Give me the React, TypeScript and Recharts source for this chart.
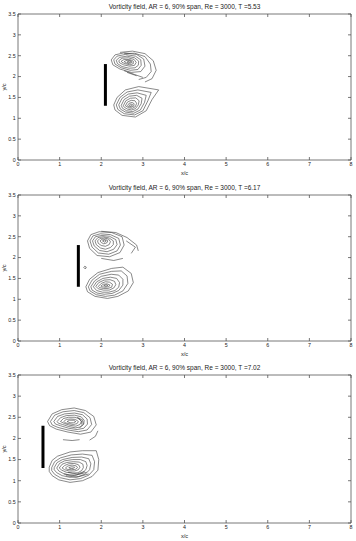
import React from 'react';
import { ScatterChart, Scatter, XAxis, YAxis } from 'recharts';

// ---------- axis ticks ----------
const xTicks = [0, 1, 2, 3, 4, 5, 6, 7, 8];
const yTicks = [0, 0.5, 1, 1.5, 2, 2.5, 3, 3.5];

const titles = [
  'Vorticity field, AR = 6, 90% span, Re = 3000, T =5.53',
  'Vorticity field, AR = 6, 90% span, Re = 3000, T =6.17',
  'Vorticity field, AR = 6, 90% span, Re = 3000, T =7.02',
];

// plate position (x/c) and span (y/c) per panel
const plateX = [2.1, 1.45, 0.6];
const plateY = [1.3, 2.3];

// ---------- contour lines, flat [x, y, x, y, ...] in x/c, y/c ----------
const p1Upper: number[][] = [
  [2.45,2.58, 2.75,2.61, 3.05,2.55, 3.25,2.38, 3.32,2.15, 3.22,1.95, 3.05,1.87],
  [2.55,2.55, 2.8,2.56, 3.05,2.48, 3.18,2.3, 3.2,2.12, 3.08,1.98, 2.9,1.93],
  [2.55,2.14, 2.8,2.05, 3.0,1.98],
  [2.62,2.1, 2.85,2.02],
  [2.24,2.4, 2.33,2.52, 2.55,2.57, 2.85,2.53, 3.02,2.42, 3.05,2.25, 2.95,2.12, 2.72,2.1, 2.45,2.18, 2.28,2.28, 2.24,2.4],
  [2.3,2.4, 2.38,2.49, 2.58,2.53, 2.82,2.49, 2.95,2.4, 2.96,2.27, 2.88,2.17, 2.7,2.15, 2.48,2.21, 2.33,2.3, 2.3,2.4],
  [2.36,2.39, 2.44,2.46, 2.62,2.49, 2.8,2.45, 2.9,2.37, 2.89,2.27, 2.81,2.21, 2.67,2.2, 2.5,2.24, 2.39,2.31, 2.36,2.39],
  [2.42,2.38, 2.5,2.44, 2.65,2.45, 2.79,2.41, 2.84,2.34, 2.8,2.27, 2.68,2.25, 2.54,2.28, 2.44,2.33, 2.42,2.38],
  [2.48,2.37, 2.55,2.41, 2.68,2.41, 2.77,2.37, 2.77,2.31, 2.69,2.28, 2.57,2.31, 2.5,2.34, 2.48,2.37],
  [2.55,2.36, 2.62,2.39, 2.71,2.38, 2.74,2.34, 2.68,2.31, 2.59,2.33, 2.55,2.36],
  [2.62,2.35, 2.68,2.37, 2.71,2.35, 2.66,2.33, 2.62,2.35],
];

const p1Lower: number[][] = [
  [2.3,1.32, 2.38,1.5, 2.58,1.68, 2.9,1.76, 3.38,1.68, 3.22,1.45, 3.08,1.18, 2.82,1.03, 2.5,1.07, 2.33,1.2, 2.3,1.32],
  [2.36,1.32, 2.45,1.5, 2.62,1.63, 2.88,1.68, 3.2,1.62, 3.12,1.42, 3.0,1.18, 2.8,1.08, 2.55,1.11, 2.4,1.21, 2.36,1.32],
  [2.42,1.32, 2.5,1.48, 2.65,1.58, 2.86,1.61, 3.08,1.55, 3.04,1.38, 2.94,1.2, 2.78,1.12, 2.58,1.15, 2.46,1.22, 2.42,1.32],
  [2.48,1.31, 2.55,1.45, 2.68,1.53, 2.85,1.55, 2.98,1.48, 2.96,1.35, 2.88,1.22, 2.76,1.16, 2.61,1.18, 2.51,1.24, 2.48,1.31],
  [2.53,1.3, 2.59,1.42, 2.7,1.48, 2.83,1.49, 2.91,1.42, 2.89,1.32, 2.82,1.23, 2.73,1.2, 2.63,1.22, 2.56,1.26, 2.53,1.3],
  [2.58,1.3, 2.63,1.39, 2.72,1.43, 2.81,1.42, 2.85,1.36, 2.82,1.28, 2.75,1.24, 2.66,1.25, 2.58,1.3],
  [2.63,1.3, 2.67,1.36, 2.74,1.38, 2.79,1.35, 2.78,1.29, 2.72,1.27, 2.65,1.28, 2.63,1.3],
  [2.67,1.31, 2.71,1.34, 2.75,1.33, 2.74,1.3, 2.69,1.29, 2.67,1.31],
];

const p2Upper: number[][] = [
  [2.0,2.63, 2.35,2.6, 2.62,2.48, 2.85,2.3, 2.89,2.16],
  [2.6,2.4, 2.82,2.25, 2.72,2.1],
  [2.0,1.98, 2.3,1.93, 2.52,1.98],
  [1.67,2.4, 1.75,2.55, 1.95,2.62, 2.25,2.6, 2.5,2.5, 2.55,2.3, 2.45,2.12, 2.2,2.02, 1.9,2.05, 1.72,2.22, 1.67,2.4],
  [1.73,2.4, 1.8,2.52, 1.98,2.57, 2.22,2.55, 2.42,2.46, 2.46,2.3, 2.38,2.16, 2.18,2.08, 1.93,2.11, 1.78,2.25, 1.73,2.4],
  [1.79,2.4, 1.86,2.5, 2.02,2.53, 2.2,2.51, 2.35,2.43, 2.38,2.31, 2.3,2.2, 2.14,2.14, 1.96,2.17, 1.83,2.28, 1.79,2.4],
  [1.85,2.4, 1.92,2.48, 2.05,2.5, 2.19,2.47, 2.29,2.4, 2.29,2.31, 2.22,2.24, 2.1,2.2, 1.98,2.23, 1.88,2.31, 1.85,2.4],
  [1.91,2.4, 1.97,2.46, 2.08,2.47, 2.18,2.44, 2.22,2.38, 2.19,2.31, 2.1,2.27, 2.0,2.29, 1.93,2.34, 1.91,2.4],
  [1.97,2.4, 2.02,2.44, 2.1,2.44, 2.16,2.4, 2.13,2.35, 2.06,2.33, 2.0,2.36, 1.97,2.4],
  [2.03,2.4, 2.08,2.42, 2.12,2.4, 2.08,2.37, 2.03,2.4],
];

const p2Lower: number[][] = [
  [1.63,1.3, 1.72,1.48, 1.92,1.64, 2.25,1.74, 2.52,1.77, 2.72,1.62, 2.77,1.4, 2.65,1.2, 2.4,1.07, 2.15,1.02, 1.85,1.07, 1.67,1.18, 1.63,1.3],
  [1.69,1.3, 1.78,1.46, 1.96,1.6, 2.25,1.67, 2.48,1.68, 2.62,1.56, 2.64,1.38, 2.52,1.2, 2.32,1.1, 2.1,1.07, 1.88,1.11, 1.73,1.2, 1.69,1.3],
  [1.75,1.3, 1.84,1.44, 2.0,1.55, 2.24,1.6, 2.42,1.58, 2.52,1.48, 2.52,1.34, 2.42,1.21, 2.26,1.14, 2.07,1.12, 1.9,1.15, 1.78,1.22, 1.75,1.3],
  [1.81,1.3, 1.89,1.42, 2.04,1.5, 2.22,1.53, 2.37,1.5, 2.44,1.4, 2.42,1.29, 2.33,1.21, 2.18,1.17, 2.03,1.17, 1.89,1.21, 1.81,1.3],
  [1.87,1.31, 1.94,1.4, 2.07,1.46, 2.21,1.47, 2.32,1.43, 2.35,1.35, 2.3,1.27, 2.19,1.22, 2.05,1.22, 1.93,1.25, 1.87,1.31],
  [1.93,1.31, 2.0,1.38, 2.1,1.42, 2.2,1.41, 2.27,1.36, 2.25,1.29, 2.16,1.26, 2.05,1.26, 1.96,1.28, 1.93,1.31],
  [1.99,1.32, 2.05,1.36, 2.14,1.37, 2.21,1.34, 2.18,1.3, 2.09,1.29, 2.01,1.3, 1.99,1.32],
  [2.06,1.33, 2.12,1.35, 2.16,1.33, 2.11,1.31, 2.06,1.33],
  [1.58,1.76, 1.6,1.79, 1.63,1.78, 1.64,1.75, 1.61,1.73, 1.58,1.76],
];

const p3Upper: number[][] = [
  [1.08,1.97, 1.3,1.95, 1.48,1.97],
  [1.72,1.96, 1.86,2.05, 1.92,2.18],
  [0.71,2.4, 0.82,2.58, 1.05,2.68, 1.35,2.72, 1.62,2.66, 1.82,2.52, 1.88,2.32, 1.75,2.15, 1.5,2.1, 1.2,2.15, 0.92,2.22, 0.76,2.3, 0.71,2.4],
  [0.78,2.4, 0.88,2.55, 1.08,2.63, 1.35,2.66, 1.58,2.61, 1.73,2.49, 1.77,2.33, 1.66,2.2, 1.45,2.16, 1.2,2.2, 0.96,2.26, 0.82,2.32, 0.78,2.4],
  [0.86,2.4, 0.95,2.52, 1.12,2.58, 1.36,2.6, 1.55,2.56, 1.66,2.46, 1.67,2.34, 1.58,2.24, 1.42,2.21, 1.22,2.24, 1.02,2.3, 0.9,2.34, 0.86,2.4],
  [0.94,2.4, 1.02,2.49, 1.16,2.54, 1.36,2.55, 1.52,2.51, 1.59,2.43, 1.58,2.34, 1.5,2.27, 1.38,2.25, 1.22,2.28, 1.07,2.33, 0.97,2.36, 0.94,2.4],
  [1.02,2.4, 1.09,2.47, 1.21,2.5, 1.37,2.5, 1.48,2.46, 1.52,2.4, 1.49,2.33, 1.39,2.29, 1.25,2.31, 1.12,2.35, 1.02,2.4],
  [1.1,2.4, 1.16,2.45, 1.27,2.46, 1.38,2.45, 1.45,2.4, 1.42,2.35, 1.33,2.33, 1.22,2.35, 1.13,2.37, 1.1,2.4],
  [1.18,2.4, 1.24,2.43, 1.33,2.43, 1.39,2.4, 1.34,2.37, 1.25,2.37, 1.18,2.4],
  [1.42,2.5, 1.55,2.44, 1.57,2.33, 1.48,2.26],
  [1.45,2.47, 1.53,2.41, 1.53,2.33],
];

const p3Lower: number[][] = [
  [0.75,1.32, 0.82,1.48, 0.95,1.58, 1.25,1.68, 1.55,1.71, 1.88,1.71, 1.94,1.5, 1.92,1.25, 1.78,1.1, 1.55,1.0, 1.25,0.96, 0.98,1.02, 0.82,1.12, 0.75,1.22, 0.75,1.32],
  [0.81,1.31, 0.88,1.45, 1.02,1.54, 1.28,1.61, 1.55,1.63, 1.78,1.6, 1.84,1.45, 1.82,1.26, 1.7,1.13, 1.5,1.05, 1.25,1.02, 1.02,1.07, 0.88,1.15, 0.81,1.24, 0.81,1.31],
  [0.87,1.31, 0.94,1.43, 1.07,1.5, 1.3,1.55, 1.53,1.56, 1.7,1.52, 1.75,1.4, 1.72,1.26, 1.62,1.16, 1.46,1.1, 1.25,1.08, 1.06,1.12, 0.93,1.19, 0.87,1.26, 0.87,1.31],
  [0.93,1.3, 1.0,1.41, 1.12,1.47, 1.32,1.5, 1.5,1.5, 1.63,1.45, 1.66,1.36, 1.63,1.26, 1.54,1.18, 1.41,1.14, 1.24,1.13, 1.09,1.17, 0.98,1.23, 0.93,1.3],
  [0.99,1.3, 1.06,1.39, 1.17,1.43, 1.33,1.45, 1.47,1.44, 1.56,1.39, 1.57,1.31, 1.53,1.24, 1.44,1.19, 1.31,1.18, 1.16,1.2, 1.05,1.25, 0.99,1.3],
  [1.06,1.3, 1.12,1.36, 1.22,1.4, 1.35,1.41, 1.45,1.38, 1.49,1.32, 1.45,1.26, 1.36,1.23, 1.23,1.23, 1.12,1.26, 1.06,1.3],
  [1.14,1.3, 1.2,1.35, 1.3,1.37, 1.4,1.35, 1.43,1.31, 1.38,1.27, 1.28,1.26, 1.18,1.27, 1.14,1.3],
  [1.22,1.31, 1.29,1.33, 1.36,1.32, 1.33,1.29, 1.25,1.29, 1.22,1.31],
  [1.1,1.16, 1.35,1.12, 1.65,1.2],
  [1.15,1.12, 1.4,1.08, 1.7,1.16],
  [1.2,1.2, 1.42,1.16, 1.6,1.22],
];

const panels = [
  { upper: p1Upper, lower: p1Lower },
  { upper: p2Upper, lower: p2Lower },
  { upper: p3Upper, lower: p3Lower },
];

const toPts = (flat: number[]) => {
  const out: { x: number; y: number }[] = [];
  for (let i = 0; i + 1 < flat.length; i += 2) out.push({ x: flat[i], y: flat[i + 1] });
  return out;
};

const FONT = '"Liberation Sans", Arial, Helvetica, sans-serif';
const AXIS = '#555';
const TXT = '#222';
const CONTOUR = '#3a3a3a';

const Empty = () => <g />;

const BottomTick = (props: any) => {
  const { x, y, payload } = props;
  return (
    <g>
      <line x1={x} x2={x} y1={y} y2={y - 3} stroke={AXIS} strokeWidth={0.8} />
      <text x={x} y={y + 6.2} textAnchor="middle" fontSize={5.3} fill={TXT} fontFamily={FONT}>
        {payload.value}
      </text>
    </g>
  );
};
const TopTick = (props: any) => {
  const { x, y } = props;
  return <line x1={x} x2={x} y1={y} y2={y + 3} stroke={AXIS} strokeWidth={0.8} />;
};
const LeftTick = (props: any) => {
  const { x, y, payload } = props;
  return (
    <g>
      <line x1={x} x2={x + 3} y1={y} y2={y} stroke={AXIS} strokeWidth={0.8} />
      <text x={x - 2.3} y={y + 1.9} textAnchor="end" fontSize={5.3} fill={TXT} fontFamily={FONT}>
        {payload.value}
      </text>
    </g>
  );
};
const RightTick = (props: any) => {
  const { x, y } = props;
  return <line x1={x} x2={x - 3} y1={y} y2={y} stroke={AXIS} strokeWidth={0.8} />;
};

function Panel({ idx, height }: { idx: number; height: number }) {
  const p = panels[idx];
  const loops = [...p.upper, ...p.lower];
  const plate = [
    { x: plateX[idx], y: plateY[0] },
    { x: plateX[idx], y: plateY[1] },
  ];
  return (
    <ScatterChart width={356} height={height} margin={{ top: 13, right: 4, bottom: 0, left: 0 }}>
      <XAxis
        xAxisId="b"
        type="number"
        dataKey="x"
        domain={[0, 8]}
        ticks={xTicks}
        allowDataOverflow
        orientation="bottom"
        height={20}
        tickSize={0}
        tickMargin={0}
        tickLine={false}
        axisLine={{ stroke: AXIS, strokeWidth: 0.8 }}
        tick={(tp: any) => <BottomTick {...tp} />}
        interval={0}
        label={{
          content: (lp: any) => {
            const vb = lp.viewBox || {};
            return (
              <text x={vb.x + vb.width / 2} y={vb.y + 15} textAnchor="middle" fontSize={5.6} fill={TXT} fontFamily={FONT}>
                x/c
              </text>
            );
          },
        }}
      />
      <XAxis
        xAxisId="t"
        type="number"
        dataKey="x"
        domain={[0, 8]}
        ticks={xTicks}
        allowDataOverflow
        orientation="top"
        height={1}
        tickSize={0}
        tickMargin={0}
        tickLine={false}
        axisLine={{ stroke: AXIS, strokeWidth: 0.8 }}
        tick={(tp: any) => <TopTick {...tp} />}
        interval={0}
        label={{
          content: (lp: any) => {
            const vb = lp.viewBox || {};
            return (
              <text x={vb.x + vb.width / 2} y={vb.y + vb.height - 5.4} textAnchor="middle" fontSize={6.5} fill={TXT} fontFamily={FONT}>
                {titles[idx]}
              </text>
            );
          },
        }}
      />
      <YAxis
        yAxisId="l"
        type="number"
        dataKey="y"
        domain={[0, 3.5]}
        ticks={yTicks}
        allowDataOverflow
        orientation="left"
        width={18}
        tickSize={0}
        tickMargin={0}
        tickLine={false}
        axisLine={{ stroke: AXIS, strokeWidth: 0.8 }}
        tick={(tp: any) => <LeftTick {...tp} />}
        interval={0}
        label={{
          content: (lp: any) => {
            const vb = lp.viewBox || {};
            const cx = vb.x + 4;
            const cy = vb.y + vb.height / 2;
            return (
              <text x={cx} y={cy} transform={`rotate(-90, ${cx}, ${cy})`} textAnchor="middle" dominantBaseline="central" fontSize={5.6} fill={TXT} fontFamily={FONT}>
                y/c
              </text>
            );
          },
        }}
      />
      <YAxis
        yAxisId="r"
        type="number"
        dataKey="y"
        domain={[0, 3.5]}
        ticks={yTicks}
        allowDataOverflow
        orientation="right"
        width={1}
        tickSize={0}
        tickMargin={0}
        tickLine={false}
        axisLine={{ stroke: AXIS, strokeWidth: 0.8 }}
        tick={(tp: any) => <RightTick {...tp} />}
        interval={0}
      />
      {loops.map((flat, i) => (
        <Scatter
          key={i}
          xAxisId="b"
          yAxisId="l"
          data={toPts(flat)}
          line={{ stroke: CONTOUR, strokeWidth: 0.6, fill: 'none' }}
          shape={Empty}
          isAnimationActive={false}
          legendType="none"
        />
      ))}
      <Scatter
        xAxisId="t"
        yAxisId="r"
        data={plate}
        line={{ stroke: '#000', strokeWidth: 3 }}
        shape={Empty}
        isAnimationActive={false}
        legendType="none"
      />
    </ScatterChart>
  );
}

export default function App() {
  return (
    <div style={{ position: 'absolute', left: 0, top: 0, width: 356, height: 541, background: '#fff', fontFamily: FONT }}>
      <div style={{ position: 'absolute', left: 0, top: 0 }}>
        <Panel idx={0} height={180} />
      </div>
      <div style={{ position: 'absolute', left: 0, top: 181 }}>
        <Panel idx={1} height={180} />
      </div>
      <div style={{ position: 'absolute', left: 0, top: 361 }}>
        <Panel idx={2} height={182} />
      </div>
    </div>
  );
}
